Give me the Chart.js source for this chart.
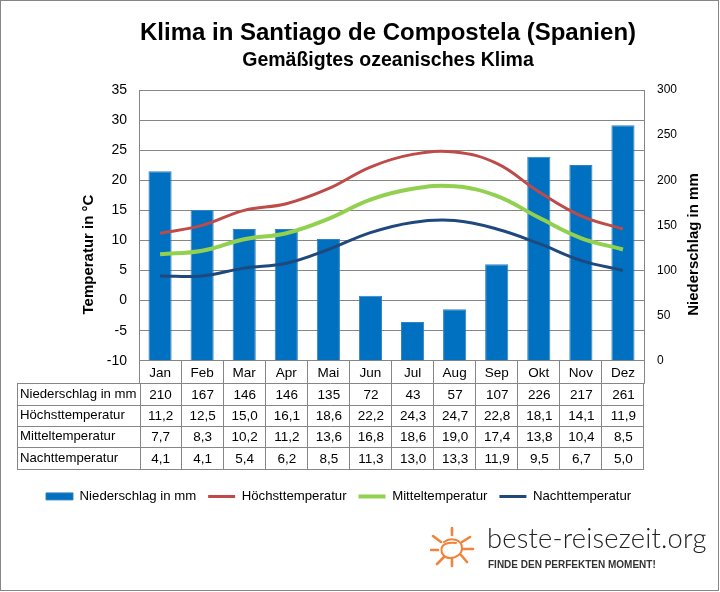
<!DOCTYPE html>
<html lang="de">
<head>
<meta charset="utf-8">
<title>Klima in Santiago de Compostela</title>
<script src="https://cdn.jsdelivr.net/npm/chart.js@4/dist/chart.umd.min.js"></script>
<style>
  html, body { margin: 0; padding: 0; background: #fff; }
  #wrap { position: relative; width: 720px; height: 592px; overflow: hidden; }
  #rahmen { position: absolute; left: 0; top: 0; width: 717px; height: 589px; border: 1.5px solid #868686; pointer-events: none; }
  #logo-text { position: absolute; left: 487px; top: 521px; font: 300 27.3px Lato, sans-serif; color: #222; letter-spacing: 0.2px; white-space: nowrap; }
  #logo-sub { position: absolute; left: 488px; top: 559px; font: bold 10px "Liberation Sans", sans-serif; color: #333; white-space: nowrap; }
  #sonne { position: absolute; left: 430px; top: 526px; }
</style>
</head>
<body>
<div id="wrap">
  <canvas id="klima" width="720" height="592"></canvas>
  <svg id="sonne" width="46" height="42" viewBox="0 0 46 42" fill="none" stroke="#F0843C" stroke-width="2.6" stroke-linecap="round">
    <path d="M22 2 L22 9 M32 16 L40 11 M33 23 L43 23 M31 29 L37 36 M22 33 L22 40 M7 38 L14 31 M1 24 L8 24 M3 10 L11 16"/>
    <path d="M14 16 C20 11 32 13 32 22 C32 29 25 32 20 32 C14 32 11 27 11.5 23 C12 18 18 16 26 17" stroke-width="2"/>
  </svg>
  <div id="logo-text">beste-reisezeit.org</div>
  <div id="logo-sub">FINDE DEN PERFEKTEN MOMENT!</div>
  <div id="rahmen"></div>
</div>

<script>
// Daten aus dem Diagramm
const monate = ['Jan', 'Feb', 'Mar', 'Apr', 'Mai', 'Jun', 'Jul', 'Aug', 'Sep', 'Okt', 'Nov', 'Dez'];
const niederschlag = [210, 167, 146, 146, 135, 72, 43, 57, 107, 226, 217, 261];
const hoechst = [11.2, 12.5, 15.0, 16.1, 18.6, 22.2, 24.3, 24.7, 22.8, 18.1, 14.1, 11.9];
const mittel = [7.7, 8.3, 10.2, 11.2, 13.6, 16.8, 18.6, 19.0, 17.4, 13.8, 10.4, 8.5];
const nacht = [4.1, 4.1, 5.4, 6.2, 8.5, 11.3, 13.0, 13.3, 11.9, 9.5, 6.7, 5.0];

const schrift = '"Liberation Sans", Arial, sans-serif';
const grau = '#868686';

// Tabelle unter dem Diagramm und die beiden Achsentitel
const tabellePlugin = {
  id: 'tabelle',
  // Legende sitzt im Original weiter links als die Titel
  beforeDraw(chart) {
    chart.legend.left = 34;
  },
  afterDraw(chart) {
    const c = chart.ctx;
    const x = chart.scales.x;
    const zeilenY = [383, 405, 426, 447, 469];
    const links = 17;
    const start = x.left + 1.5;
    const rechts = x.right;
    const breite = (rechts - start) / monate.length;
    const fmt = v => v.toFixed(1).replace('.', ',');
    const zeilen = [
      ['Niederschlag in mm', niederschlag.map(String)],
      ['Höchsttemperatur', hoechst.map(fmt)],
      ['Mitteltemperatur', mittel.map(fmt)],
      ['Nachttemperatur', nacht.map(fmt)]
    ];

    c.save();
    c.strokeStyle = grau;
    c.lineWidth = 1;
    zeilenY.forEach(y => {
      c.beginPath();
      c.moveTo(links, y + 0.5);
      c.lineTo(rechts, y + 0.5);
      c.stroke();
    });
    c.beginPath();
    c.moveTo(links + 0.5, zeilenY[0]);
    c.lineTo(links + 0.5, zeilenY[4]);
    for (let i = 0; i <= monate.length; i++) {
      const px = Math.round(start + i * breite) - 0.5;
      c.moveTo(px, zeilenY[0]);
      c.lineTo(px, zeilenY[4]);
    }
    c.stroke();

    c.fillStyle = '#000';
    c.textBaseline = 'middle';
    zeilen.forEach((z, i) => {
      const my = (zeilenY[i] + zeilenY[i + 1]) / 2 + 1;
      c.textAlign = 'left';
      c.font = '13.2px ' + schrift;
      c.fillText(z[0], links + 3, my - 1);
      c.textAlign = 'center';
      c.font = '13.5px ' + schrift;
      z[1].forEach((wert, j) => c.fillText(wert, x.getPixelForValue(j) + 0.5, my));
    });

    // Achsentitel, beide von unten nach oben gedreht
    c.font = 'bold 15px ' + schrift;
    c.textAlign = 'center';
    [[88.5, 'Temperatur in °C', 254.5], [694, 'Niederschlag in mm', 244.5]].forEach(t => {
      c.save();
      c.translate(t[0], t[2]);
      c.rotate(-Math.PI / 2);
      c.fillText(t[1], 0, 0);
      c.restore();
    });
    c.restore();
  }
};

const ctx = document.getElementById('klima').getContext('2d');
new Chart(ctx, {
  data: {
    labels: monate,
    datasets: [
      { type: 'line', label: 'Höchsttemperatur', data: hoechst, yAxisID: 'y', borderColor: '#BE4B48', borderWidth: 3, pointRadius: 0, tension: 0.4, pointStyle: 'line', order: 1 },
      { type: 'line', label: 'Mitteltemperatur', data: mittel, yAxisID: 'y', borderColor: '#92D050', borderWidth: 4, pointRadius: 0, tension: 0.4, pointStyle: 'line', order: 1 },
      { type: 'line', label: 'Nachttemperatur', data: nacht, yAxisID: 'y', borderColor: '#1F497D', borderWidth: 3, pointRadius: 0, tension: 0.4, pointStyle: 'line', order: 1 },
      { type: 'bar', label: 'Niederschlag in mm', data: niederschlag, yAxisID: 'y2', backgroundColor: '#0070C0', borderColor: '#3A7FC0', borderWidth: 1, barPercentage: 0.55, categoryPercentage: 1, pointStyle: 'rect', order: 2 }
    ]
  },
  plugins: [tabellePlugin],
  options: {
    responsive: false,
    animation: false,
    layout: { padding: { left: 56, right: 0, top: 18.5, bottom: 79 } },
    plugins: {
      tooltip: { enabled: false },
      title: { display: true, text: 'Klima in Santiago de Compostela (Spanien)', color: '#000', font: { family: schrift, size: 24, weight: 'bold' }, padding: { top: 0, bottom: 2 } },
      subtitle: { display: true, text: 'Gemäßigtes ozeanisches Klima', color: '#000', font: { family: schrift, size: 19.5, weight: 'bold' }, padding: { top: 0, bottom: 17.3 } },
      legend: {
        position: 'bottom',
        align: 'start',
        labels: {
          color: '#000',
          font: { family: schrift, size: 13.2 },
          usePointStyle: true,
          pointStyleWidth: 27,
          boxHeight: 7,
          padding: 12,
          sort: (a, b) => (a.datasetIndex === 3 ? -1 : b.datasetIndex === 3 ? 1 : a.datasetIndex - b.datasetIndex)
        }
      }
    },
    scales: {
      x: {
        offset: true,
        afterFit: s => { s.height = 117; },
        grid: { color: grau, drawOnChartArea: false, tickLength: 23, tickColor: grau },
        border: { color: grau },
        ticks: { color: '#000', font: { family: schrift, size: 13.5 }, padding: -19, maxRotation: 0 }
      },
      y: {
        position: 'left',
        min: -10,
        max: 35,
        afterFit: s => { s.width = 83; },
        ticks: { stepSize: 5, color: '#000', font: { family: schrift, size: 14 }, padding: 12 },
        grid: { color: grau, drawTicks: false },
        border: { color: grau }
      },
      y2: {
        position: 'right',
        min: 0,
        max: 300,
        afterFit: s => { s.width = 76; },
        ticks: { stepSize: 50, color: '#000', font: { family: schrift, size: 12 }, padding: 13 },
        grid: { drawOnChartArea: false, drawTicks: false },
        border: { color: grau }
      }
    }
  }
});
</script>
</body>
</html>
